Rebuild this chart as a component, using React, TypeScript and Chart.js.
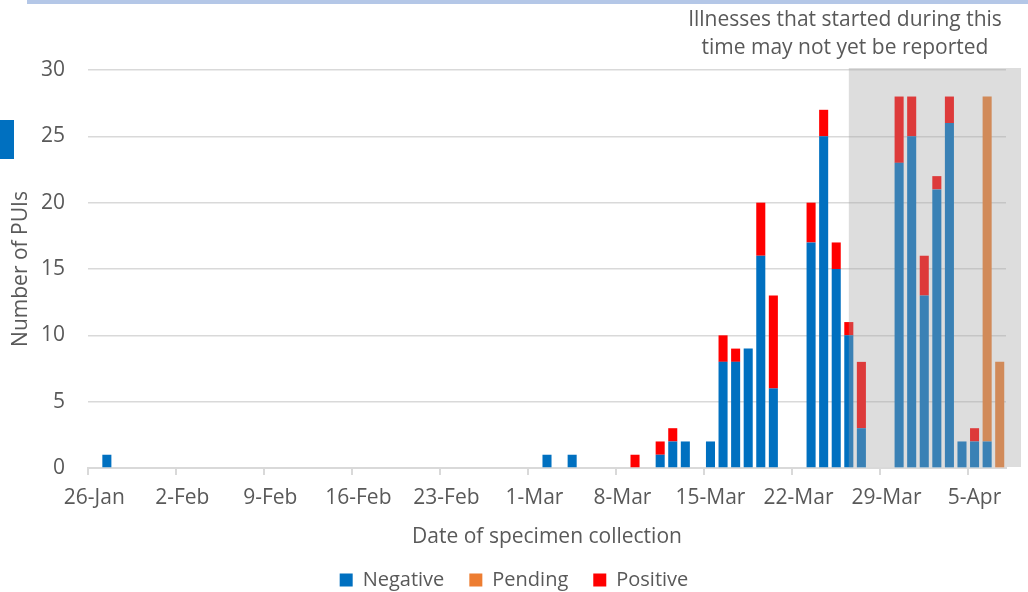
import React, { useEffect, useRef } from 'react';
import { Chart, registerables } from 'chart.js';

Chart.register(...registerables);

// ---- Data ----
const categories = [
  '26-Jan', '27-Jan', '28-Jan', '29-Jan', '30-Jan', '31-Jan',
  '1-Feb', '2-Feb', '3-Feb', '4-Feb', '5-Feb', '6-Feb', '7-Feb', '8-Feb', '9-Feb', '10-Feb',
  '11-Feb', '12-Feb', '13-Feb', '14-Feb', '15-Feb', '16-Feb', '17-Feb', '18-Feb', '19-Feb', '20-Feb',
  '21-Feb', '22-Feb', '23-Feb', '24-Feb', '25-Feb', '26-Feb', '27-Feb', '28-Feb', '29-Feb',
  '1-Mar', '2-Mar', '3-Mar', '4-Mar', '5-Mar', '6-Mar', '7-Mar', '8-Mar', '9-Mar', '10-Mar',
  '11-Mar', '12-Mar', '13-Mar', '14-Mar', '15-Mar', '16-Mar', '17-Mar', '18-Mar', '19-Mar', '20-Mar',
  '21-Mar', '22-Mar', '23-Mar', '24-Mar', '25-Mar', '26-Mar', '27-Mar', '28-Mar', '29-Mar', '30-Mar', '31-Mar',
  '1-Apr', '2-Apr', '3-Apr', '4-Apr', '5-Apr', '6-Apr', '7-Apr',
];

const reportDates = [
  '27-Jan', '2-Mar', '4-Mar', '9-Mar', '11-Mar', '12-Mar', '13-Mar', '15-Mar', '16-Mar', '17-Mar',
  '18-Mar', '19-Mar', '20-Mar', '23-Mar', '24-Mar', '25-Mar', '26-Mar', '27-Mar', '30-Mar', '31-Mar',
  '1-Apr', '2-Apr', '3-Apr', '4-Apr', '5-Apr', '6-Apr', '7-Apr',
];
const negativeCounts = [1, 1, 1, 0, 1, 2, 2, 2, 8, 8, 9, 16, 6, 17, 25, 15, 10, 3, 23, 25, 13, 21, 26, 2, 2, 2, 0];
const pendingCounts = [0, 0, 0, 0, 0, 0, 0, 0, 0, 0, 0, 0, 0, 0, 0, 0, 0, 0, 0, 0, 0, 0, 0, 0, 0, 26, 8];
const positiveCounts = [0, 0, 0, 1, 1, 1, 0, 0, 2, 1, 0, 4, 7, 3, 2, 2, 1, 5, 5, 3, 3, 1, 2, 0, 1, 0, 0];

const seriesNames = ['Negative', 'Pending', 'Positive'];
const seriesColors = ['#0070C0', '#ED7D31', '#FF0000'];

const yMin = 0;
const yMax = 30;
const yStep = 5;
const labelEvery = 7;

const shadeStartDate = '26-Mar';
const annotationLines = ['Illnesses that started during this', 'time may not yet be reported'];
const xTitle = 'Date of specimen collection';
const yTitle = 'Number of PUIs';

const FONT = "'Open Sans', sans-serif";
const TEXT = '#595959';
const GRID = '#d9d9d9';

function expand(values: number[]) {
  return categories.map((c) => {
    const i = reportDates.indexOf(c);
    return i >= 0 && values[i] ? values[i] : null;
  });
}

const decorPlugin = {
  id: 'decor',
  beforeDraw(chart: any) {
    const ctx = chart.ctx;
    ctx.save();
    ctx.fillStyle = '#ffffff';
    ctx.fillRect(0, 0, chart.width, chart.height);
    // slide decorations
    ctx.fillStyle = '#B4C7E7';
    ctx.fillRect(27, 0, chart.width - 27, 4);
    ctx.fillStyle = '#0070C0';
    ctx.fillRect(0, 120, 14, 39);
    ctx.restore();
  },
  afterDatasetsDraw(chart: any) {
    const ctx = chart.ctx;
    const xs = chart.scales.x;
    const ys = chart.scales.y;
    const left = xs.getPixelForValue(categories.indexOf(shadeStartDate));
    const right = chart.chartArea.right + 15;
    const top = ys.getPixelForValue(yMax) - 2;
    const bottom = ys.getPixelForValue(yMin) - 1;
    ctx.save();
    ctx.fillStyle = 'rgba(162,162,162,0.36)';
    ctx.fillRect(left, top, right - left, bottom - top);
    ctx.restore();
  },
  afterDraw(chart: any) {
    const ctx = chart.ctx;
    ctx.save();
    // annotation
    ctx.font = `21px ${FONT}`;
    ctx.fillStyle = TEXT;
    ctx.textAlign = 'center';
    ctx.textBaseline = 'middle';
    const ax = 845;
    annotationLines.forEach((line, i) => ctx.fillText(line, ax, 20 + i * 28));

    // legend
    ctx.font = `20px ${FONT}`;
    const box = 13;
    const gap = 10;
    const itemGap = 25;
    const items = chart.data.datasets.map((d: any) => ({
      label: d.label,
      color: d.backgroundColor,
      w: ctx.measureText(d.label).width,
    }));
    const total = items.reduce((s: number, it: any) => s + box + gap + it.w, 0) + itemGap * (items.length - 1);
    let x = chart.width / 2 - total / 2;
    const cy = 580;
    ctx.textAlign = 'left';
    items.forEach((it: any) => {
      ctx.fillStyle = it.color;
      ctx.fillRect(x, cy - box / 2, box, box);
      ctx.fillStyle = TEXT;
      ctx.fillText(it.label, x + box + gap, cy);
      x += box + gap + it.w + itemGap;
    });
    ctx.restore();
  },
};

export default function App() {
  const ref = useRef<HTMLCanvasElement | null>(null);

  useEffect(() => {
    if (!ref.current) return;
    const seriesValues = [negativeCounts, pendingCounts, positiveCounts];
    const chart = new Chart(ref.current, {
      type: 'bar',
      data: {
        labels: categories,
        datasets: seriesNames.map((name, i) => ({
          label: name,
          data: expand(seriesValues[i]),
          backgroundColor: seriesColors[i],
          borderWidth: 0,
          barPercentage: 0.72,
          categoryPercentage: 1,
        })),
      },
      options: {
        responsive: false,
        animation: false,
        layout: { padding: { top: 70, right: 22, bottom: 24, left: 0 } },
        plugins: {
          legend: { display: false },
          tooltip: { enabled: false },
        },
        scales: {
          x: {
            stacked: true,
            afterFit: (s: any) => { s.height = 100; },
            border: { display: true, color: GRID, width: 2 },
            grid: {
              drawOnChartArea: false,
              drawTicks: true,
              tickLength: 7,
              lineWidth: 2,
              color: (c: any) => (c.index % labelEvery === 0 ? GRID : 'rgba(0,0,0,0)'),
            },
            ticks: {
              autoSkip: false,
              maxRotation: 0,
              minRotation: 0,
              padding: 10,
              color: TEXT,
              font: { family: FONT, size: 21 },
              callback: (_v: any, idx: number) => (idx % labelEvery === 0 ? categories[idx] : ''),
            },
            title: {
              display: true,
              text: xTitle,
              color: TEXT,
              font: { family: FONT, size: 21 },
              padding: { top: 0, bottom: 18 },
            },
          },
          y: {
            stacked: true,
            min: yMin,
            max: yMax,
            afterFit: (s: any) => { s.width = 88; },
            border: { display: false },
            grid: { color: GRID, lineWidth: 1.5, drawTicks: false },
            ticks: {
              stepSize: yStep,
              padding: 23,
              color: TEXT,
              font: { family: FONT, size: 21 },
            },
            title: {
              display: true,
              text: yTitle,
              color: TEXT,
              font: { family: FONT, size: 21 },
              padding: { top: 8, bottom: 0 },
            },
          },
        },
      },
      plugins: [decorPlugin],
    });
    return () => chart.destroy();
  }, []);

  return (
    <div style={{ position: 'fixed', left: 0, top: 0, width: 1028, height: 592 }}>
      <canvas ref={ref} width={1028} height={592} style={{ display: 'block' }} />
    </div>
  );
}
